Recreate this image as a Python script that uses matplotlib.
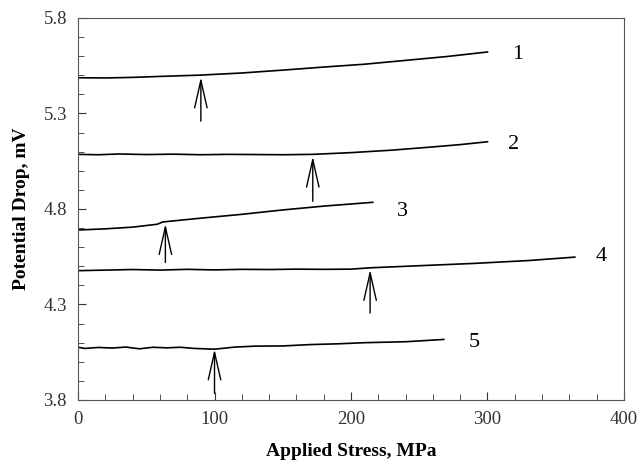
import matplotlib.pyplot as plt
from matplotlib.ticker import MultipleLocator

plt.rcParams['font.family'] = ['Liberation Serif', 'DejaVu Serif']

# --- curve data (Applied stress MPa, potential drop mV) ---
x1 = [0, 20, 40, 60, 90, 120, 150, 180, 210, 240, 270, 300]
y1 = [5.487, 5.486, 5.489, 5.494, 5.501, 5.512, 5.527, 5.543, 5.558, 5.578, 5.598, 5.622]

x2 = [0, 15, 30, 50, 70, 90, 110, 130, 150, 172, 200, 230, 260, 280, 300]
y2 = [5.086, 5.084, 5.088, 5.085, 5.087, 5.084, 5.086, 5.085, 5.084, 5.086, 5.095, 5.108, 5.125, 5.137, 5.152]

x3 = [0, 20, 40, 58, 62, 90, 120, 150, 180, 216]
y3 = [4.690, 4.696, 4.705, 4.720, 4.732, 4.752, 4.772, 4.795, 4.815, 4.835]

x4 = [0, 20, 40, 60, 80, 100, 120, 140, 160, 180, 200, 214, 250, 290, 330, 364]
y4 = [4.477, 4.480, 4.483, 4.480, 4.484, 4.481, 4.484, 4.483, 4.485, 4.484, 4.485, 4.492, 4.503, 4.515, 4.530, 4.548]

x5 = [0, 5, 15, 25, 35, 45, 55, 65, 75, 85, 100, 115, 130, 150, 170, 190, 210, 240, 268]
y5 = [4.076, 4.070, 4.075, 4.072, 4.077, 4.068, 4.076, 4.073, 4.076, 4.070, 4.066, 4.077, 4.082, 4.083, 4.090, 4.094, 4.100, 4.105, 4.117]

# arrows: x position, tip, tail
arrow_x = [90, 172, 64, 214, 100]
arrow_tip = [5.49, 5.075, 4.722, 4.482, 4.066]
arrow_tail = [5.26, 4.84, 4.52, 4.255, 3.835]

# curve numbers
lab_text = ['1', '2', '3', '4', '5']
lab_x = [322, 319, 238, 383, 290]
lab_y = [5.61, 5.135, 4.785, 4.55, 4.10]

fig = plt.figure(figsize=(6.38, 4.67), dpi=100)
ax = fig.add_axes([0.1223, 0.1435, 0.8557, 0.818])

for xs, ys in [(x1, y1), (x2, y2), (x3, y3), (x4, y4), (x5, y5)]:
    ax.plot(xs, ys, color='black', lw=1.2)

for xa, yt, yb in zip(arrow_x, arrow_tip, arrow_tail):
    ax.annotate('', xy=(xa, yt), xytext=(xa, yb),
                arrowprops=dict(arrowstyle='->,head_length=1.1,head_width=0.25',
                                mutation_scale=18, color='black', lw=1.0,
                                shrinkA=0, shrinkB=0))

for t, lx, ly in zip(lab_text, lab_x, lab_y):
    ax.text(lx, ly, t, fontsize=16, ha='center', va='center')

ax.set_xlim(0, 400)
ax.set_ylim(3.8, 5.8)
ax.set_xticks([0, 100, 200, 300, 400])
ax.set_yticks([3.8, 4.3, 4.8, 5.3, 5.8])
ax.xaxis.set_minor_locator(MultipleLocator(20))
ax.yaxis.set_minor_locator(MultipleLocator(0.1))
ax.tick_params(which='both', direction='in', top=False, right=False,
               labelsize=13.5, colors='#333333', pad=8)
ax.tick_params(which='major', length=6)
ax.tick_params(which='minor', length=4)
for s in ax.spines.values():
    s.set_color('#555555')

ax.set_xlabel('Applied Stress, MPa', fontsize=14, fontweight='bold', labelpad=11)
ax.set_ylabel('Potential Drop, mV', fontsize=14, fontweight='bold', labelpad=10)

fig.savefig('out.png', dpi=100)
